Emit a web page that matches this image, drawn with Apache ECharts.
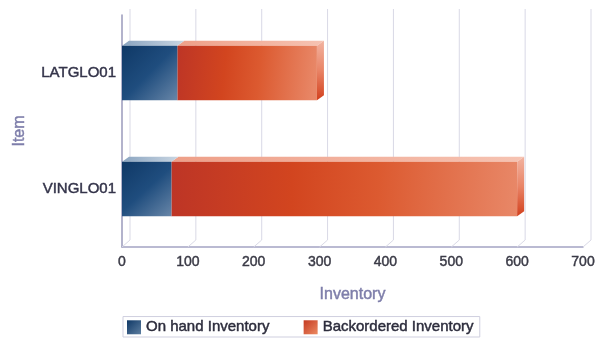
<!DOCTYPE html>
<html>
<head>
<meta charset="utf-8">
<script src="https://cdn.jsdelivr.net/npm/echarts@6/dist/echarts.min.js"></script>
<style>html,body{margin:0;padding:0;background:#fff}#c{width:604px;height:339px}</style>
</head>
<body>
<div id="c"></div>
<script>
const categories = ['LATGLO01', 'VINGLO01'];
const onHand = [84, 75];
const backordered = [212, 525];
const xTicks = [0, 100, 200, 300, 400, 500, 600, 700];
const seriesNames = ['On hand Inventory', 'Backordered Inventory'];

const G = echarts.graphic;
const DX = 7, DY = -5;      // bar depth
const GDX = 8, GDY = -7;    // grid depth

const styles = [
  {
    front: new G.LinearGradient(0, 0, 1, 1, [{offset:0,color:'#0f3866'},{offset:0.5,color:'#1f4d7e'},{offset:1,color:'#6886a8'}]),
    top: new G.LinearGradient(0, 0, 1, 0, [{offset:0,color:'#8aa4c0'},{offset:1,color:'#c8d5e2'}]),
    side: new G.LinearGradient(0, 0, 0, 1, [{offset:0,color:'#9db2c9'},{offset:1,color:'#2d5580'}]),
    legend: new G.LinearGradient(0, 0, 1, 1, [{offset:0,color:'#0f3866'},{offset:1,color:'#5d7ea0'}])
  },
  {
    front: new G.LinearGradient(0, 0, 1, 0.25, [{offset:0,color:'#bd3526'},{offset:0.35,color:'#d2451f'},{offset:0.6,color:'#dc5a30'},{offset:1,color:'#e88767'}]),
    top: new G.LinearGradient(0, 0, 1, 0, [{offset:0,color:'#ee9f88'},{offset:1,color:'#f6c3b2'}]),
    side: new G.LinearGradient(0, 0, 0, 1, [{offset:0,color:'#f2b3a0'},{offset:0.5,color:'#e98466'},{offset:1,color:'#d2401d'}]),
    legend: new G.LinearGradient(0, 0, 1, 1, [{offset:0,color:'#c43a22'},{offset:1,color:'#ec8a62'}])
  }
];

function barData(startArr, endArr) {
  return categories.map((c, i) => [i, startArr[i], endArr[i]]);
}
const totals = onHand.map((v, i) => v + backordered[i]);
const zeros = onHand.map(() => 0);

function makeRender(st, drawSide) {
  return function (params, api) {
    const cat = api.value(0), s = api.value(1), e = api.value(2);
    const p0 = api.coord([s, cat]);
    const p1 = api.coord([e, cat]);
    const h = api.size([0, 1])[1] * 0.47;
    const x0 = p0[0], x1 = p1[0];
    const yT = p0[1] - h / 2, yB = p0[1] + h / 2;
    const children = [
      { type: 'polygon', shape: { points: [[x0, yT], [x0 + DX, yT + DY], [x1 + DX, yT + DY], [x1, yT]] }, style: { fill: st.top } },
      { type: 'rect', shape: { x: x0, y: yT, width: x1 - x0, height: h }, style: { fill: st.front } }
    ];
    if (drawSide) {
      children.push({ type: 'polygon', shape: { points: [[x1, yT], [x1 + DX, yT + DY], [x1 + DX, yB + DY], [x1, yB]] }, style: { fill: st.side } });
    }
    return { type: 'group', children: children };
  };
}

function renderGrid(params, api) {
  const cs = params.coordSys;
  const x = api.coord([api.value(0), 0])[0];
  const bottom = cs.y + cs.height;
  const top = cs.y;
  return {
    type: 'polyline',
    shape: { points: [[x, bottom], [x + GDX, bottom + GDY], [x + GDX, top - 6]] },
    style: { stroke: '#d9d9e6', lineWidth: 1, fill: null }
  };
}

const heavy = (c) => ({ color: c, textBorderColor: c, textBorderWidth: 0.45 });

const chart = echarts.init(document.getElementById('c'), null, { renderer: 'canvas' });
chart.setOption({
  backgroundColor: '#ffffff',
  animation: false,
  textStyle: { fontFamily: 'Liberation Sans, Arial, sans-serif' },
  grid: { left: 122, right: 21, top: 15, bottom: 92 },
  xAxis: {
    type: 'value', min: 0, max: 700, interval: 100,
    name: 'Inventory', nameLocation: 'middle', nameGap: 40,
    nameTextStyle: Object.assign(heavy('#7e7eaa'), { fontSize: 16 }),
    axisLine: { show: true, lineStyle: { color: '#a4a4c4', width: 1.5 } },
    axisTick: { show: false },
    splitLine: { show: false },
    axisLabel: Object.assign(heavy('#3a3a46'), { fontSize: 14, margin: 8, formatter: v => String(v) })
  },
  yAxis: {
    type: 'category', data: categories, inverse: true,
    name: 'Item', nameLocation: 'middle', nameGap: 94,
    nameTextStyle: Object.assign(heavy('#7e7eaa'), { fontSize: 16 }),
    axisLine: { show: true, lineStyle: { color: '#9a9abb', width: 1.5 } },
    axisTick: { show: false },
    axisLabel: Object.assign(heavy('#34344a'), { fontSize: 15, margin: 6 })
  },
  legend: {
    data: seriesNames.map((n, i) => ({ name: n, itemStyle: { color: styles[i].legend } })),
    bottom: 2, left: 123,
    icon: 'rect', itemWidth: 14, itemHeight: 14, itemGap: 34,
    borderColor: '#cfcfdf', borderWidth: 1, borderRadius: 0, padding: [3, 6, 2, 4],
    textStyle: Object.assign(heavy('#2c2c3c'), { fontSize: 15 }),
    selectedMode: false
  },
  series: [
    {
      type: 'custom', name: 'grid', renderItem: renderGrid, silent: true, z: 1,
      data: xTicks.map(v => [v, 0]), encode: { x: 0, y: 1 }
    },
    {
      type: 'custom', name: seriesNames[0], renderItem: makeRender(styles[0], false), z: 3,
      itemStyle: { color: styles[0].legend },
      data: barData(zeros, onHand), encode: { x: [1, 2], y: 0 }
    },
    {
      type: 'custom', name: seriesNames[1], renderItem: makeRender(styles[1], true), z: 2,
      itemStyle: { color: styles[1].legend },
      data: barData(onHand, totals), encode: { x: [1, 2], y: 0 }
    }
  ]
});
</script>
</body>
</html>
